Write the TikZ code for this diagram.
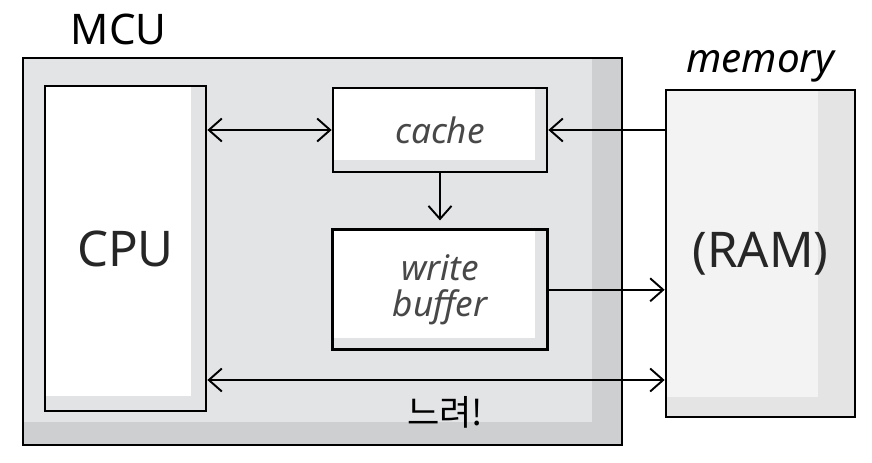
\documentclass[tikz,border=0pt]{standalone}
\usepackage{fontspec}
\setmainfont{Noto Sans}
\newfontfamily\krfont{Noto Sans CJK KR}
\usetikzlibrary{positioning,arrows.meta,calc}
\definecolor{mcugray}{RGB}{227,228,230}
\definecolor{mcushade}{RGB}{206,207,209}
\definecolor{boxshade}{RGB}{226,227,229}
\definecolor{ramfill}{RGB}{243,243,243}
\definecolor{ramshade}{RGB}{228,228,228}
\definecolor{inkgray}{RGB}{72,72,72}

\begin{document}
\begin{tikzpicture}[x=0.02cm,y=-0.02cm,
    box/.style n args={4}{draw,line width=1.6pt,fill=#2,inner sep=0pt,
      path picture={\fill[#1] (path picture bounding box.north west)
        rectangle ([xshift=-#3,yshift=#4]path picture bounding box.south east);}},
    lbl/.style={inner sep=0pt,font=\fontsize{23}{26}\selectfont\itshape},
    big/.style={font=\fontsize{28}{32}\selectfont,text=black!85},
    small/.style={font=\fontsize{20}{21}\selectfont\itshape,text=inkgray,align=center},
    >={Straight Barb[length=2.6mm,width=4.6mm]},
    every edge/.style={draw,line width=1.1pt}]
    \useasboundingbox (0,0) rectangle (872,463);
    \node[box={mcugray}{mcushade}{0.6cm}{0.46cm},minimum width=11.98cm,minimum height=7.74cm] (mcu) at (322.5,251.5) {};
    \node[lbl,font=\fontsize{24}{26}\selectfont,above right=0.22cm and 0.98cm of mcu.north west] (mculbl) {MCU};
    \node[box={white}{boxshade}{0.3cm}{0.3cm},big,minimum width=3.22cm,minimum height=6.5cm] (cpu) at (125.5,248.5) {CPU};
    \node[box={white}{boxshade}{0.24cm}{0.24cm},small,minimum width=4.28cm,minimum height=1.68cm] (cache) at (440,130) {cache};
    \node[box={white}{boxshade}{0.24cm}{0.24cm},small,minimum width=4.3cm,minimum height=2.4cm,below=1.1cm of cache] (wbuf) {write\\buffer};
    \node[box={ramfill}{ramshade}{0.74cm}{0.4cm},big,minimum width=3.78cm,minimum height=6.54cm] (ram) at (760.5,253.5) {(RAM)};
    \node[lbl,above=0.12cm of ram.north] (ramlbl) {memory};
    \coordinate (bus) at (0,380);
    \path (cpu.east |- cache.west) edge[<->] (cache.west);
    \path (ram.west |- cache.east) edge[->] (cache.east);
    \path (cache.south) edge[->,shorten >=0.16cm] (wbuf.north);
    \path (wbuf.east) edge[->] (ram.west |- wbuf.east);
    \path (cpu.east |- bus) edge[<->] node[pos=0.52,below=0.3cm,inner sep=0pt,font=\krfont\fontsize{20}{22}\selectfont] (slowlbl) {느려!} (ram.west |- bus);
  \end{tikzpicture}
\end{document}
